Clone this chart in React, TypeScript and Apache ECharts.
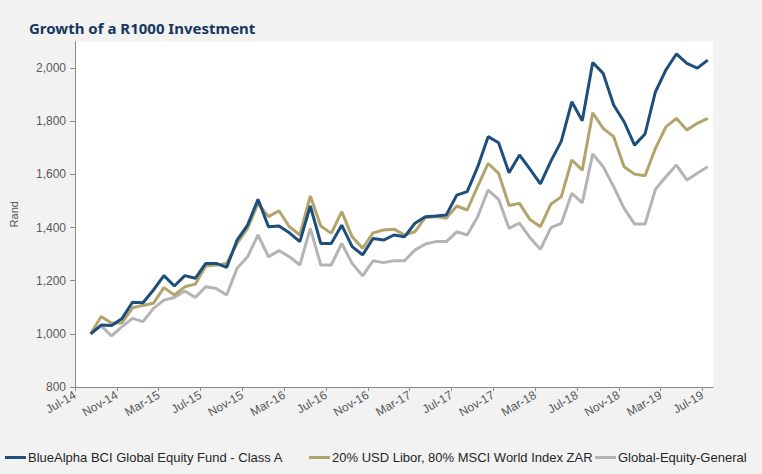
import React, { useEffect, useRef } from "react";
import * as echarts from "echarts";

const xLabels = [
  "Jul-14", "Nov-14", "Mar-15", "Jul-15", "Nov-15", "Mar-16", "Jul-16", "Nov-16",
  "Mar-17", "Jul-17", "Nov-17", "Mar-18", "Jul-18", "Nov-18", "Mar-19", "Jul-19",
];
const yTicks = [800, 1000, 1200, 1400, 1600, 1800, 2000];

const seriesNames = [
  "BlueAlpha BCI Global Equity Fund - Class A",
  "20% USD Libor, 80% MSCI World Index ZAR",
  "Global-Equity-General",
];

const blueAlpha = [
  1000, 1033, 1031, 1058, 1119, 1117, 1165, 1219, 1180, 1219, 1209, 1265, 1265, 1250, 1353,
  1409, 1506, 1403, 1406, 1380, 1347, 1481, 1340, 1340, 1409, 1328, 1297, 1359, 1353, 1372,
  1365, 1416, 1441, 1443, 1447, 1522, 1535, 1628, 1742, 1719, 1606, 1673, 1620, 1564, 1650,
  1725, 1873, 1802, 2021, 1980, 1861, 1798, 1710, 1752, 1911, 1993, 2053, 2018, 2000, 2030,
];
const benchmark = [
  1000, 1065, 1040, 1042, 1098, 1107, 1115, 1174, 1146, 1177, 1187, 1255, 1259, 1265, 1340,
  1397, 1491, 1441, 1463, 1403, 1372, 1519, 1406, 1378, 1460, 1365, 1322, 1380, 1391, 1394,
  1372, 1384, 1438, 1441, 1435, 1481, 1466, 1555, 1641, 1604, 1483, 1491, 1430, 1403, 1488,
  1516, 1654, 1616, 1832, 1773, 1742, 1629, 1601, 1595, 1698, 1779, 1811, 1767, 1792, 1811,
];
const peerGroup = [
  1000, 1030, 992, 1027, 1058, 1046, 1096, 1127, 1137, 1161, 1137, 1177, 1171, 1146, 1247,
  1290, 1372, 1290, 1313, 1290, 1259, 1397, 1259, 1259, 1340, 1265, 1218, 1275, 1268, 1275,
  1275, 1315, 1338, 1347, 1347, 1384, 1372, 1441, 1541, 1506, 1397, 1417, 1362, 1318, 1400,
  1416, 1529, 1493, 1677, 1629, 1554, 1472, 1413, 1413, 1544, 1591, 1635, 1579, 1604, 1629,
];

const colors = ["#1d4e7c", "#b3a46c", "#b4b4b4"];
// months since Jul-14 for the first data point
const firstOffset = 1.5;

const toPairs = (arr: number[]) => arr.map((v, i) => [firstOffset + i, v]);

export default function App() {
  const ref = useRef<HTMLDivElement>(null);
  useEffect(() => {
    if (!ref.current) return;
    const chart = echarts.init(ref.current, undefined, { renderer: "svg" });
    const font = "Liberation Sans, Arial, sans-serif";
    const legendLefts = [5, 309, 595];
    chart.setOption({
      animation: false,
      backgroundColor: "#f2f2f2",
      textStyle: { fontFamily: font },
      title: {
        text: "Growth of a R1000 Investment",
        left: 24,
        top: 15,
        textStyle: {
          fontFamily: "Noto Sans",
          fontWeight: "bold",
          fontSize: 15,
          color: "#17375e",
        },
      },
      legend: seriesNames.map((n, k) => ({
        data: [n],
        left: legendLefts[k],
        top: 451,
        icon: "rect",
        itemWidth: 21,
        itemHeight: 3,
        itemGap: 0,
        padding: 0,
        textStyle: { fontFamily: font, fontSize: 13, color: "#262626", padding: [0, 0, 0, -3] },
      })),
      grid: {
        left: 67,
        right: 49,
        top: 41.5,
        bottom: 87,
        show: true,
        backgroundColor: "#ffffff",
        borderWidth: 0,
      },
      xAxis: {
        type: "value",
        min: 0,
        max: 61,
        splitLine: { show: false },
        axisLine: { lineStyle: { color: "#8a8a8a", width: 1 } },
        axisTick: {
          length: 4,
          lineStyle: { color: "#8a8a8a" },
          customValues: xLabels.map((_, k) => k * 4),
        },
        axisLabel: {
          customValues: xLabels.map((_, k) => k * 4),
          formatter: (v: number) => xLabels[Math.round(v / 4)] ?? "",
          rotate: 30,
          fontSize: 12,
          color: "#595959",
          margin: 7,
          fontFamily: font,
        },
      },
      yAxis: {
        type: "value",
        min: 800,
        max: 2100,
        name: "Rand",
        nameLocation: "middle",
        nameRotate: 90,
        nameGap: 56,
        nameTextStyle: { fontSize: 11, color: "#595959", fontFamily: font },
        splitLine: { show: false },
        axisLine: { show: true, lineStyle: { color: "#8a8a8a", width: 1 } },
        axisTick: { show: true, length: 5, lineStyle: { color: "#8a8a8a" }, customValues: yTicks },
        axisLabel: {
          customValues: yTicks,
          formatter: (v: number) => v.toLocaleString("en-US"),
          fontSize: 12,
          color: "#595959",
          margin: 9,
          fontFamily: font,
        },
      },
      series: [blueAlpha, benchmark, peerGroup].map((d, k) => ({
        name: seriesNames[k],
        type: "line",
        data: toPairs(d),
        showSymbol: false,
        symbol: "none",
        color: colors[k],
        lineStyle: { width: 3, color: colors[k] },
        z: 3 - k,
      })),
    });
    return () => chart.dispose();
  }, []);
  return (
    <div
      ref={ref}
      style={{ position: "absolute", left: 0, top: 0, width: 762, height: 474 }}
    />
  );
}
